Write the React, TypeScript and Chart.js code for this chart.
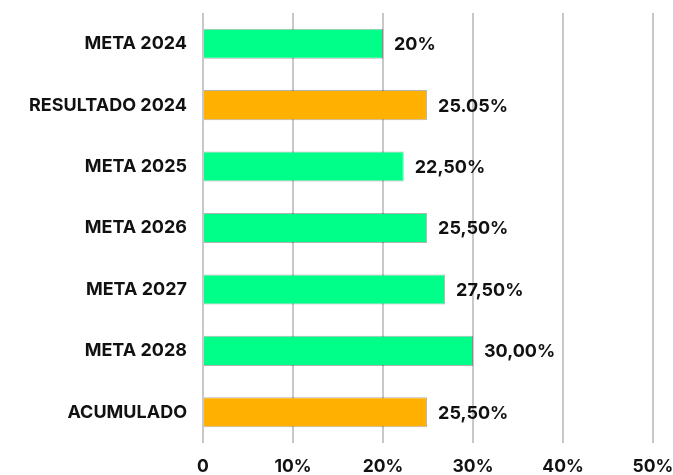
import React, { useEffect, useRef } from "react";
import { Chart, registerables } from "chart.js";

Chart.register(...registerables);

const categories = [
  "META 2024",
  "RESULTADO 2024",
  "META 2025",
  "META 2026",
  "META 2027",
  "META 2028",
  "ACUMULADO",
];
const values = [20, 24.9, 22.3, 24.9, 26.9, 30, 24.9];
const valueLabels = ["20%", "25.05%", "22,50%", "25,50%", "27,50%", "30,00%", "25,50%"];
const barColors = ["#00FF88", "#FFB000", "#00FF88", "#00FF88", "#00FF88", "#00FF88", "#FFB000"];
const xTicks = [0, 10, 20, 30, 40, 50];

const FONT = "Inter, 'Noto Sans', sans-serif";

const labelPlugin = {
  id: "valueLabels",
  afterDatasetsDraw(chart: any) {
    const ctx = chart.ctx;
    const meta = chart.getDatasetMeta(0);
    ctx.save();
    ctx.font = `bold 18px ${FONT}`;
    ctx.fillStyle = "#111111";
    ctx.textAlign = "left";
    ctx.textBaseline = "middle";
    meta.data.forEach((bar: any, i: number) => {
      ctx.fillText(valueLabels[i], bar.x + 11, bar.y + 1);
    });
    ctx.restore();
  },
};

export default function App() {
  const ref = useRef<HTMLCanvasElement | null>(null);
  useEffect(() => {
    document.body.style.margin = "0";
    const canvas = ref.current!;
    const chart = new Chart(canvas, {
      type: "bar",
      data: {
        labels: categories,
        datasets: [
          {
            data: values,
            backgroundColor: barColors,
            borderColor: "rgba(0,0,0,0.3)",
            borderWidth: 1,
            categoryPercentage: 1,
            barPercentage: 0.49,
          },
        ],
      },
      plugins: [labelPlugin],
      options: {
        indexAxis: "y",
        animation: false,
        responsive: false,
        maintainAspectRatio: false,
        layout: { padding: { left: 0, right: 20, top: 13, bottom: 0 } },
        plugins: { legend: { display: false }, tooltip: { enabled: false } },
        scales: {
          x: {
            min: 0,
            max: 50,
            afterBuildTicks(scale: any) {
              scale.ticks = xTicks.map((v) => ({ value: v }));
            },
            afterFit(scale: any) {
              scale.height = 32;
              scale.paddingLeft = 0;
              scale.paddingRight = 0;
            },
            grid: { color: "#c8c8c8", lineWidth: 2, drawTicks: false },
            border: { display: false },
            ticks: {
              padding: 13,
              color: "#111111",
              font: { family: FONT, size: 17.5, weight: "bold" },
              callback: (v: any) => (v === 0 ? "0" : `${v}%`),
            },
          },
          y: {
            afterFit(scale: any) {
              scale.width = 203;
              scale.paddingTop = 0;
              scale.paddingBottom = 0;
            },
            grid: { display: false },
            border: { display: false },
            ticks: {
              padding: 8,
              color: "#111111",
              font: { family: FONT, size: 18, weight: "bold" },
            },
          },
        },
      },
    } as any);
    return () => chart.destroy();
  }, []);
  return <canvas ref={ref} width={673} height={475} style={{ display: "block" }} />;
}
